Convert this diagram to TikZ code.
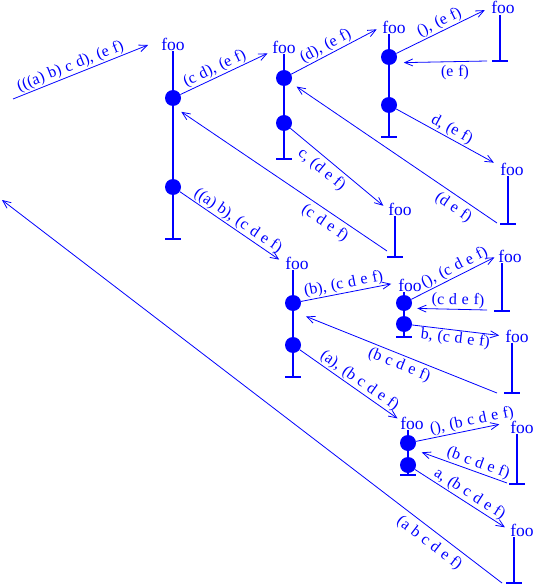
\documentclass[tikz,border=0pt]{standalone}
\usepackage{fontspec}
\setmainfont{Liberation Serif}
\newfontfamily\labfam[WordSpace=1.2]{Liberation Serif}
\usetikzlibrary{arrows.meta}
\begin{document}
\begin{tikzpicture}[x=1pt,y=-1pt,
  foonode/.style={font=\fontsize{17.5}{19}\selectfont, text=blue, inner sep=1pt},
  dotnode/.style={circle, fill=blue, minimum size=16pt, inner sep=0pt},
  stem/.style={draw=blue, line width=1.5pt},
  arr/.style={draw=blue, line width=0.8pt, -{Straight Barb[length=8pt,width=7pt]}},
  lab/.style={font=\labfam\fontsize{16}{18}\selectfont, text=blue, sloped, inner sep=1pt},
]
\useasboundingbox (0,0) rectangle (534,585);

% ---- frames: foo label, stem, bar ----
\node[foonode] (foo1) at (173,44) {foo};   \coordinate (bar1) at (173,239);
\node[foonode] (foo2) at (284,47) {foo};   \coordinate (bar2) at (284,159);
\node[foonode] (foo3) at (394,27) {foo};   \coordinate (bar3) at (389,137);
\node[foonode] (foo4) at (400,209) {foo};  \coordinate (bar4) at (395,257);
\node[foonode] (foo5) at (297,263) {foo};  \coordinate (bar5) at (293,377);
\node[foonode] (foo6) at (512,169) {foo};  \coordinate (bar6) at (508,224);
\node[foonode] (foo7) at (503,7.5) {foo};  \coordinate (bar7) at (500,61);
\node[foonode] (foo8) at (510,256) {foo};  \coordinate (bar8) at (502,311);
\node[foonode] (foo9) at (410,285) {foo};  \coordinate (bar9) at (404,337);
\node[foonode] (foo10) at (517,336) {foo}; \coordinate (bar10) at (512,393);
\node[foonode] (foo11) at (412,423) {foo}; \coordinate (bar11) at (408,475);
\node[foonode] (foo12) at (522,427) {foo}; \coordinate (bar12) at (517,484);
\node[foonode] (foo13) at (522,530) {foo}; \coordinate (bar13) at (514,583);

\foreach \i in {1,...,13}{
  \draw[stem] (foo\i.south -| bar\i) -- (bar\i);
  \draw[stem] ([xshift=-8pt]bar\i) -- ([xshift=8pt]bar\i);
}

% ---- dots ----
\node[dotnode] (d1a) at (173,98) {};
\node[dotnode] (d1b) at (173,187) {};
\node[dotnode] (d2a) at (284,78) {};
\node[dotnode] (d2b) at (284,123) {};
\node[dotnode] (d3a) at (389,57) {};
\node[dotnode] (d3b) at (389,105) {};
\node[dotnode] (d5a) at (293,303) {};
\node[dotnode] (d5b) at (293,345) {};
\node[dotnode] (d9a) at (404,303) {};
\node[dotnode] (d9b) at (404,324) {};
\node[dotnode] (d11a) at (408,443) {};
\node[dotnode] (d11b) at (408,465) {};

% ---- free ends / return starts ----
\coordinate (s0) at (13,99);
\coordinate (e0) at (148,45);
\coordinate (r4) at (387,251);
\coordinate (r6) at (497,223);
\coordinate (r7) at (487,61);
\coordinate (r8) at (487,310);
\coordinate (r10) at (497,393);
\coordinate (r12) at (507,483);
\coordinate (r13) at (502,583);
\coordinate (e14) at (2,200);

% ---- connectors ----
\draw[arr] (s0) -- node[lab,pos=0.45,above]{(((a) b) c d), (e f)} (e0);
\draw[arr,shorten >=4pt] (d1a) -- node[lab,pos=0.42,above]{(c d), (e f)} (foo2.200);
\draw[arr,shorten >=10pt] (r4) -- node[lab,pos=0.26,below=3pt]{(c d e f)} (d1a.south);
\draw[arr,shorten >=6pt] (d1b) -- node[lab,pos=0.51,above]{((a) b), (c d e f)} (foo5.west);

\draw[arr,shorten >=5pt] (d2a) -- node[lab,pos=0.43,above]{(d), (e f)} (foo3.west);
\draw[arr,shorten >=7pt] (r6) -- node[lab,pos=0.18,below=3pt]{(d e f)} (d2a);
\draw[arr,shorten >=5pt] (d2b) -- node[lab,pos=0.40,below=3pt]{c, (d e f)} (foo4.west);

\draw[arr,shorten >=6pt] (d3a) -- node[lab,pos=0.50,above]{(), (e f)} (foo7.west);
\draw[arr,shorten >=9pt] (r7) -- node[lab,pos=0.35,below=2pt]{(e f)} (d3a.-45);
\draw[arr,shorten >=6pt] (d3b) -- node[lab,pos=0.50,above]{d, (e f)} (foo6.165);

\draw[arr,shorten >=6pt] (d5a) -- node[lab,pos=0.46,above]{(b), (c d e f)} (foo9.170);
\draw[arr,shorten >=14pt] (r10) -- node[lab,pos=0.46,below=2pt]{(b c d e f)} (d5a.south);
\draw[arr,shorten >=2pt] (d5b) -- node[lab,pos=0.55,above]{(a), (b c d e f)} (foo11.165);

\draw[arr,shorten >=3pt] (d9a) -- node[lab,pos=0.55,above]{(), (c d e f)} (foo8.west);
\draw[arr,shorten >=7pt] (r8) -- node[lab,pos=0.38,above]{(c d e f)} (d9a.-40);
\draw[arr,shorten >=5pt] (d9b) -- node[lab,pos=0.48,below]{b, (c d e f)} (foo10.west);

\draw[arr,shorten >=10pt] (d11a) -- node[lab,pos=0.62,above]{(), (b c d e f)} (foo12.160);
\draw[arr,shorten >=9pt] (r12) -- node[lab,pos=0.34,above]{(b c d e f)} (d11a.-50);
\draw[arr,shorten >=5pt] (d11b) -- node[lab,pos=0.53,above]{a, (b c d e f)} (foo13.west);

\draw[arr] (r13) -- node[lab,pos=0.13,below=4pt]{(a b c d e f)} (e14);
\end{tikzpicture}
\end{document}
